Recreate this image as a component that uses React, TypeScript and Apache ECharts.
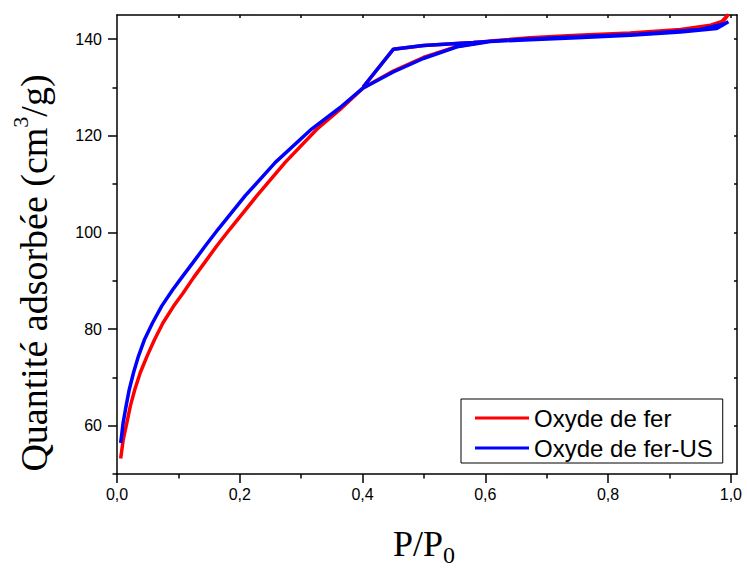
import React, { useEffect, useRef } from "react";
import * as echarts from "echarts";

// ---- Data ----
const redAdsP = [0.006, 0.01, 0.016, 0.022, 0.029, 0.038, 0.049, 0.061, 0.075, 0.092, 0.108, 0.125, 0.143, 0.163, 0.184, 0.228, 0.274, 0.326, 0.363, 0.401, 0.45, 0.499, 0.554, 0.608, 0.673, 0.75, 0.836, 0.918, 0.967, 0.988, 0.996];
const redAdsQ = [53.2, 57.0, 60.6, 64.2, 67.5, 71.0, 74.4, 77.8, 81.3, 84.7, 87.5, 90.7, 93.8, 97.3, 100.7, 107.6, 114.5, 121.4, 125.4, 129.9, 133.4, 136.2, 138.5, 139.6, 140.3, 140.8, 141.3, 142.0, 142.9, 143.8, 145.1];
const redDesP = [0.985, 0.96, 0.92, 0.85, 0.75, 0.65, 0.58, 0.5, 0.45, 0.401];
const redDesQ = [143.6, 142.6, 141.9, 141.2, 140.6, 140.0, 139.3, 138.7, 137.9, 130.1];

const blueAdsP = [0.006, 0.008, 0.01, 0.015, 0.02, 0.027, 0.035, 0.045, 0.058, 0.073, 0.091, 0.105, 0.124, 0.145, 0.165, 0.209, 0.258, 0.317, 0.363, 0.401, 0.45, 0.499, 0.554, 0.608, 0.673, 0.75, 0.836, 0.918, 0.977, 0.996];
const blueAdsQ = [56.4, 58.5, 60.6, 64.2, 67.5, 71.0, 74.4, 77.9, 81.3, 84.8, 88.2, 90.6, 93.8, 97.4, 100.7, 107.6, 114.5, 121.4, 125.8, 129.9, 133.2, 136.0, 138.4, 139.5, 139.9, 140.3, 140.8, 141.5, 142.2, 143.6];
const blueDesP = [0.99, 0.95, 0.85, 0.75, 0.65, 0.581, 0.499, 0.45, 0.401];
const blueDesQ = [143.2, 142.0, 141.0, 140.5, 139.9, 139.3, 138.7, 137.9, 130.1];

const seriesNames = ["Oxyde de fer", "Oxyde de fer-US"];

const xTicksMajor = [0, 0.2, 0.4, 0.6, 0.8, 1.0];
const xTicksMinor = [0.1, 0.3, 0.5, 0.7, 0.9];
const xTicksTop = [0.1, 0.2, 0.3, 0.4, 0.5, 0.6, 0.7, 0.8, 0.9, 1.0];
const yTicksMajor = [60, 80, 100, 120, 140];
const yTicksMinor = [50, 70, 90, 110, 130];
const yTicksRight = [60, 70, 80, 90, 100, 110, 120, 130, 140];

const zip = (p: number[], q: number[]) => p.map((v, i) => [v, q[i]]);

export default function App() {
  const ref = useRef<HTMLDivElement>(null);
  useEffect(() => {
    if (!ref.current) return;
    const chart = echarts.init(ref.current, null, { renderer: "svg" });
    const axisColor = "#000";
    const sans = "'Liberation Sans', Arial, sans-serif";
    const serif = "'Liberation Serif', 'Times New Roman', serif";
    const lineStyle = { color: axisColor, width: 1.5 };
    const baseX = { type: "value", min: 0, max: 1.01, gridIndex: 0, splitLine: { show: false } };
    const baseY = { type: "value", min: 50, max: 145, gridIndex: 0, splitLine: { show: false } };

    const redData = zip(redAdsP, redAdsQ).concat(zip(redDesP, redDesQ));
    const blueData = zip(blueAdsP, blueAdsQ).concat(zip(blueDesP, blueDesQ));

    chart.setOption({
      animation: false,
      backgroundColor: "#fff",
      grid: { left: 117, top: 15, width: 620, height: 459, containLabel: false },
      xAxis: [
        {
          ...baseX,
          position: "bottom",
          axisLine: { show: true, onZero: false, lineStyle },
          axisTick: { show: true, inside: false, length: 9, customValues: xTicksMajor, lineStyle },
          axisLabel: {
            show: true,
            customValues: xTicksMajor,
            formatter: (v: number) => v.toFixed(1).replace(".", ","),
            color: "#000",
            fontSize: 16,
            fontFamily: sans,
            margin: 12,
          },
        },
        {
          ...baseX,
          position: "bottom",
          axisLine: { show: false, onZero: false },
          axisTick: { show: true, inside: false, length: 4.5, customValues: xTicksMinor, lineStyle },
          axisLabel: { show: false },
        },
        {
          ...baseX,
          position: "top",
          axisLine: { show: true, onZero: false, lineStyle },
          axisTick: { show: true, inside: true, length: 3, customValues: xTicksTop, lineStyle },
          axisLabel: { show: false },
        },
      ],
      yAxis: [
        {
          ...baseY,
          position: "left",
          axisLine: { show: true, onZero: false, lineStyle },
          axisTick: { show: true, inside: false, length: 9, customValues: yTicksMajor, lineStyle },
          axisLabel: {
            show: true,
            customValues: yTicksMajor,
            color: "#000",
            fontSize: 16,
            fontFamily: sans,
            margin: 15,
          },
        },
        {
          ...baseY,
          position: "left",
          axisLine: { show: false, onZero: false },
          axisTick: { show: true, inside: false, length: 4.5, customValues: yTicksMinor, lineStyle },
          axisLabel: { show: false },
        },
        {
          ...baseY,
          position: "right",
          axisLine: { show: true, onZero: false, lineStyle },
          axisTick: { show: true, inside: true, length: 3, customValues: yTicksRight, lineStyle },
          axisLabel: { show: false },
        },
      ],
      legend: {
        orient: "vertical",
        left: 461,
        top: 399,
        padding: [7, 10, 3, 14],
        itemGap: 6,
        itemWidth: 54,
        itemHeight: 3,
        icon: "rect",
        borderColor: "#000",
        borderWidth: 1,
        backgroundColor: "#fff",
        textStyle: { color: "#000", fontSize: 24, fontFamily: sans },
        data: seriesNames,
      },
      series: [
        {
          name: seriesNames[0],
          type: "line",
          xAxisIndex: 0,
          yAxisIndex: 0,
          data: redData,
          symbol: "none",
          showSymbol: false,
          lineStyle: { color: "#ff0000", width: 3.5 },
          itemStyle: { color: "#ff0000" },
          z: 2,
        },
        {
          name: seriesNames[1],
          type: "line",
          xAxisIndex: 0,
          yAxisIndex: 0,
          data: blueData,
          symbol: "none",
          showSymbol: false,
          lineStyle: { color: "#0000ff", width: 3.5 },
          itemStyle: { color: "#0000ff" },
          z: 3,
        },
      ],
      graphic: [
        {
          type: "text",
          x: 31,
          y: 273,
          rotation: Math.PI / 2,
          style: {
            text: "{m|Quantité adsorbée (cm}{sup|3}{m|/g)}",
            align: "center",
            verticalAlign: "middle",
            fill: "#000",
            rich: {
              m: { fontSize: 38, fontFamily: serif, lineHeight: 44, verticalAlign: "bottom", fill: "#000" },
              sup: { fontSize: 22, fontFamily: serif, lineHeight: 22, verticalAlign: "top", fill: "#000" },
            },
          },
        },
        {
          type: "text",
          x: 424,
          y: 544,
          style: {
            text: "{m|P/P}{sub|0}",
            align: "center",
            verticalAlign: "middle",
            fill: "#000",
            rich: {
              m: { fontSize: 36, fontFamily: serif, lineHeight: 36, verticalAlign: "top", fill: "#000" },
              sub: { fontSize: 24, fontFamily: serif, lineHeight: 24, verticalAlign: "top", padding: [17, 0, 0, 0], fill: "#000" },
            },
          },
        },
      ],
    });
    return () => chart.dispose();
  }, []);
  return (
    <div
      ref={ref}
      style={{ position: "fixed", left: 0, top: 0, width: 747, height: 570 }}
    />
  );
}
